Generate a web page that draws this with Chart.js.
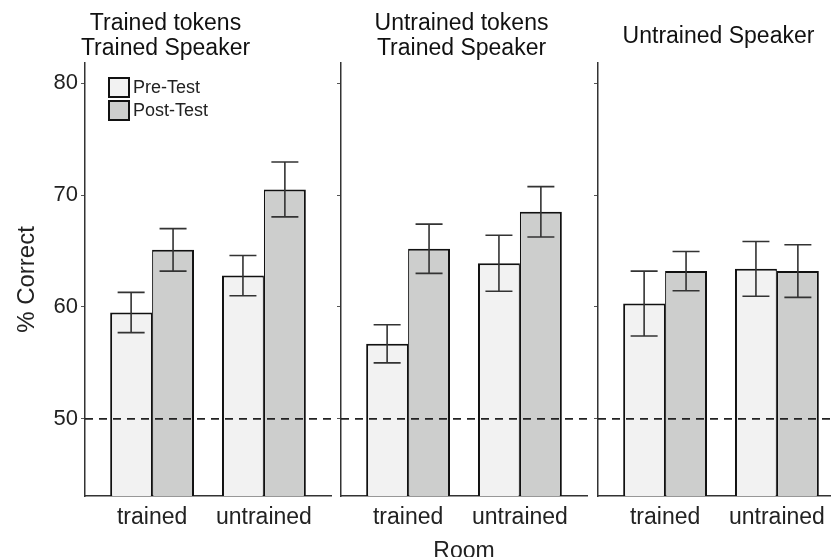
<!DOCTYPE html>
<html>
<head>
<meta charset="utf-8">
<script src="https://cdn.jsdelivr.net/npm/chart.js@4/dist/chart.umd.min.js"></script>
<style>
  html, body { margin: 0; padding: 0; background: #fff; }
  body { width: 831px; height: 557px; overflow: hidden; position: relative; }
  canvas { position: absolute; top: 0; }
</style>
</head>
<body>
<canvas id="panel1" width="336" height="557" style="left:0px"></canvas>
<canvas id="panel2" width="256" height="557" style="left:336px"></canvas>
<canvas id="panel3" width="256" height="557" style="left:593px"></canvas>
<script>
const FONT = "'Liberation Sans', Arial, sans-serif";

// Data
const panelTitles = [
    ['Trained tokens', 'Trained Speaker'],
    ['Untrained tokens', 'Trained Speaker'],
    'Untrained Speaker'
];
const rooms = ['trained', 'untrained'];
const preTest = [[59.5, 62.8], [56.7, 63.9], [60.3, 63.4]];
const postTest = [[65.1, 70.5], [65.2, 68.5], [63.2, 63.2]];
const preErr = [[1.8, 1.8], [1.7, 2.5], [2.9, 2.45]];
const postErr = [[1.9, 2.45], [2.2, 2.25], [1.75, 2.35]];
const yTicks = [50, 60, 70, 80];
const chanceLevel = 50;

const PRE_COLOR = '#f2f2f2';
const POST_COLOR = '#cdcecd';

// error bars + dashed chance line
const decoPlugin = {
    id: 'deco',
    afterDatasetsDraw(chart) {
        const ctx = chart.ctx;
        const area = chart.chartArea;
        const y = chart.scales.y;
        ctx.save();
        ctx.strokeStyle = '#333';
        ctx.lineWidth = 1.6;
        chart.data.datasets.forEach((ds, di) => {
            const meta = chart.getDatasetMeta(di);
            meta.data.forEach((bar, i) => {
                const v = ds.data[i].y;
                const e = ds.errors[i];
                const top = y.getPixelForValue(v + e);
                const bot = y.getPixelForValue(v - e);
                const half = 13.5;
                ctx.beginPath();
                ctx.moveTo(bar.x, top);
                ctx.lineTo(bar.x, bot);
                ctx.moveTo(bar.x - half, top);
                ctx.lineTo(bar.x + half, top);
                ctx.moveTo(bar.x - half, bot);
                ctx.lineTo(bar.x + half, bot);
                ctx.stroke();
            });
        });
        const py = y.getPixelForValue(chanceLevel);
        ctx.strokeStyle = '#222';
        ctx.lineWidth = 1.8;
        ctx.setLineDash([8, 6]);
        ctx.beginPath();
        ctx.moveTo(area.left, py);
        ctx.lineTo(area.right, py);
        ctx.stroke();
        ctx.restore();
    }
};

// legend inside the first panel
const legendPlugin = {
    id: 'innerLegend',
    afterDraw(chart) {
        const ctx = chart.ctx;
        const area = chart.chartArea;
        ctx.save();
        chart.data.datasets.forEach((ds, i) => {
            const bx = area.left + 24;
            const by = area.top + 15 + i * 23;
            ctx.fillStyle = ds.backgroundColor;
            ctx.fillRect(bx, by, 20, 19);
            ctx.strokeStyle = '#111';
            ctx.lineWidth = 2;
            ctx.strokeRect(bx, by, 20, 19);
            ctx.fillStyle = '#222';
            ctx.font = '18px ' + FONT;
            ctx.textBaseline = 'middle';
            ctx.fillText(ds.label, bx + 24, by + 10);
        });
        ctx.restore();
    }
};

function makePanel(id, p) {
    const first = p === 0;
    const twoLine = Array.isArray(panelTitles[p]);
    const plugins = [decoPlugin];
    if (first) plugins.push(legendPlugin);

    new Chart(document.getElementById(id), {
        type: 'bar',
        data: {
            datasets: [{
                label: 'Pre-Test',
                data: rooms.map((r, i) => ({ x: i + 1, y: preTest[p][i] })),
                errors: preErr[p],
                backgroundColor: PRE_COLOR,
                borderColor: '#111',
                borderWidth: { left: 2, top: 2, right: 1.2, bottom: 0 },
                categoryPercentage: 0.75,
                barPercentage: 1
            }, {
                label: 'Post-Test',
                data: rooms.map((r, i) => ({ x: i + 1, y: postTest[p][i] })),
                errors: postErr[p],
                backgroundColor: POST_COLOR,
                borderColor: '#111',
                borderWidth: { left: 1.2, top: 2, right: 2, bottom: 0 },
                categoryPercentage: 0.75,
                barPercentage: 1
            }]
        },
        options: {
            responsive: false,
            animation: false,
            devicePixelRatio: 1,
            layout: { padding: { left: 0, right: 5, top: 0, bottom: 0 } },
            plugins: {
                legend: { display: false },
                tooltip: { enabled: false },
                title: {
                    display: true,
                    text: panelTitles[p],
                    color: '#111',
                    font: { family: FONT, size: 23, weight: 'normal', lineHeight: 25 / 23 },
                    padding: twoLine ? { top: 11.5, bottom: 1.5 } : { top: 24.5, bottom: 13.5 }
                }
            },
            scales: {
                x: {
                    type: 'linear',
                    offset: false,
                    min: 0.4,
                    max: 2.6,
                    afterBuildTicks: s => { s.ticks = rooms.map((r, i) => ({ value: i + 1 })); },
                    afterFit: s => { s.height = 61; },
                    ticks: {
                        color: '#222',
                        padding: 8,
                        font: { family: FONT, size: 23 },
                        callback: v => rooms[v - 1]
                    },
                    grid: { display: false, drawTicks: false, offset: false },
                    border: { display: true, color: '#333', width: 1.5 },
                    title: {
                        display: p === 1,
                        text: 'Room',
                        color: '#222',
                        font: { family: FONT, size: 23 },
                        padding: { top: 0, bottom: -8 }
                    }
                },
                y: {
                    min: 43.1,
                    max: 81.8,
                    afterBuildTicks: s => { s.ticks = yTicks.map(v => ({ value: v })); },
                    afterFit: s => { s.width = first ? 85 : 5; },
                    ticks: {
                        display: first,
                        color: '#222',
                        padding: 3,
                        font: { family: FONT, size: 22 }
                    },
                    grid: { drawOnChartArea: false, drawTicks: true, tickLength: 4, color: '#555' },
                    border: { display: true, color: '#333', width: 1.5 },
                    title: {
                        display: first,
                        text: '% Correct',
                        color: '#222',
                        font: { family: FONT, size: 24 },
                        padding: { top: 13, bottom: 0 }
                    }
                }
            }
        },
        plugins: plugins
    });
}

makePanel('panel1', 0);
makePanel('panel2', 1);
makePanel('panel3', 2);
</script>
</body>
</html>
